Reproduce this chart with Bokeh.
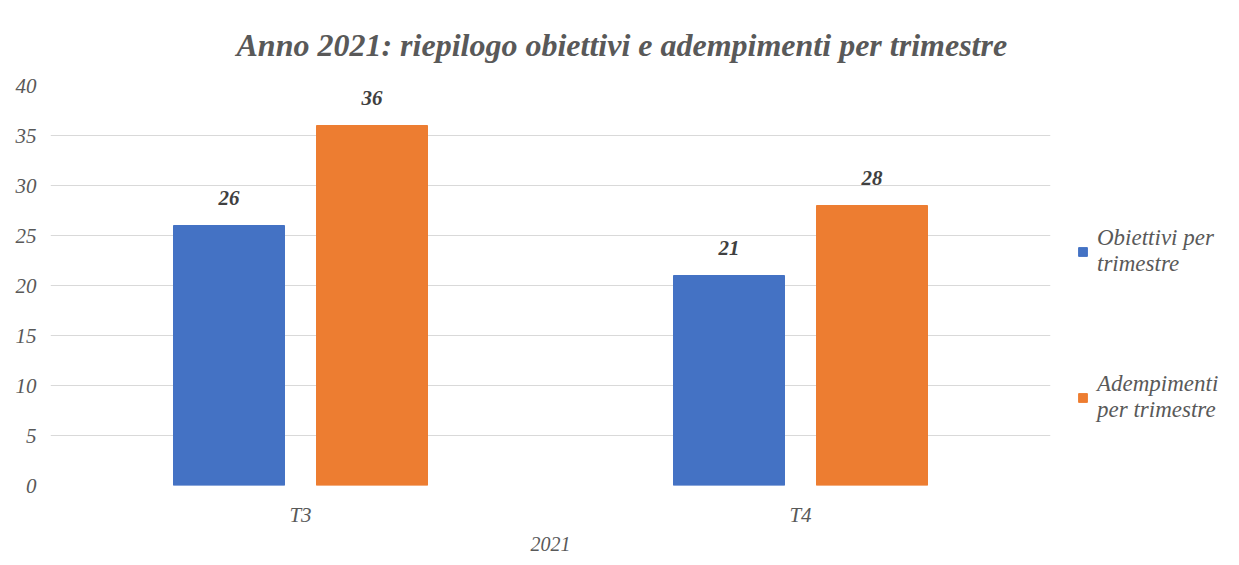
from bokeh.plotting import figure
from bokeh.models import ColumnDataSource, Legend, LegendItem, Range1d, FactorRange, LabelSet, FixedTicker
from bokeh.transform import dodge
from bokeh.core.properties import value
from bokeh.embed import file_html
from bokeh.resources import INLINE

quarters = ["T3", "T4"]
obiettivi = [26, 21]
adempimenti = [36, 28]
series_names = ["Obiettivi per\ntrimestre", "Adempimenti\nper trimestre"]
y_ticks = [0, 5, 10, 15, 20, 25, 30, 35, 40]
title_text = "Anno 2021: riepilogo obiettivi e adempimenti per trimestre"
x_title = "2021"

FONT = "Liberation Serif"
TXT = "#595959"
BLUE = "#4472C4"
ORANGE = "#ED7D31"

src = ColumnDataSource(dict(q=quarters, ob=obiettivi, ad=adempimenti,
                            obt=[str(v) for v in obiettivi], adt=[str(v) for v in adempimenti]))

p = figure(x_range=FactorRange(*quarters), y_range=Range1d(0, 40),
           frame_width=1000, frame_height=400,
           min_border_left=50, min_border_right=173, min_border_top=85, min_border_bottom=64,
           output_backend="svg", toolbar_location=None)
p.outline_line_color = None
p.background_fill_color = "white"

off = 0.143
bw = 0.222
r1 = p.vbar(x=dodge("q", -off, range=p.x_range), top="ob", width=bw, source=src, color=BLUE)
r2 = p.vbar(x=dodge("q", off, range=p.x_range), top="ad", width=bw, source=src, color=ORANGE)

for xo, ycol, tcol in [(-off, "ob", "obt"), (off, "ad", "adt")]:
    ls = LabelSet(x=dodge("q", xo, range=p.x_range), y=ycol,
                  text=tcol, source=src, y_offset=28, text_align="center", text_baseline="middle",
                  text_font=value(FONT), text_font_style="bold italic", text_font_size="21px",
                  text_color="#404040")
    p.add_layout(ls)

p.xgrid.grid_line_color = None
p.ygrid.grid_line_color = "#D9D9D9"
p.ygrid.grid_line_width = 1
p.yaxis.ticker = FixedTicker(ticks=y_ticks)

for ax in (p.xaxis[0], p.yaxis[0]):
    ax.axis_line_color = None
    ax.major_tick_line_color = None
    ax.minor_tick_line_color = None
    ax.major_tick_out = 0
    ax.major_tick_in = 0
    ax.major_label_text_font = FONT
    ax.major_label_text_font_style = "italic"
    ax.major_label_text_font_size = "21px"
    ax.major_label_text_color = TXT
p.yaxis.major_label_standoff = 14
p.xaxis.major_label_standoff = 17
p.xaxis.axis_label = x_title
p.xaxis.axis_label_standoff = 7
p.xaxis.axis_label_text_font = FONT
p.xaxis.axis_label_text_font_style = "italic"
p.xaxis.axis_label_text_font_size = "20px"
p.xaxis.axis_label_text_color = TXT

p.title.text = title_text
p.title.align = "left"
p.title.offset = 186
p.title.standoff = 46
p.title.text_font = FONT
p.title.text_font_style = "bold italic"
p.title.text_font_size = "32px"
p.title.text_color = TXT

legend = Legend(items=[LegendItem(label=series_names[0], renderers=[r1]),
                       LegendItem(label=series_names[1], renderers=[r2])],
                location=(27, 62), orientation="vertical", spacing=94,
                padding=0, margin=0, border_line_color=None, background_fill_alpha=0,
                glyph_width=11, glyph_height=11, label_standoff=9,
                label_text_font=FONT, label_text_font_style="italic",
                label_text_font_size="23px", label_text_color=TXT)
p.add_layout(legend, "right")

open("out.html", "w").write(file_html(p, INLINE))
